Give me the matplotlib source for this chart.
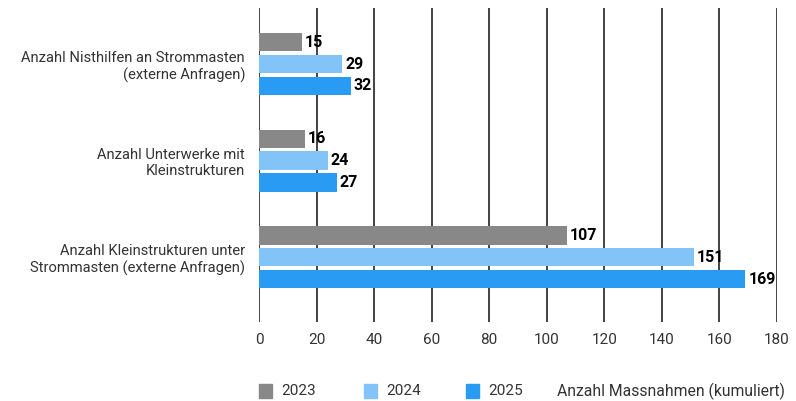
import matplotlib
matplotlib.use("Agg")
import matplotlib.pyplot as plt
import numpy as np

categories = ["Anzahl Nisthilfen an Strommasten\n(externe Anfragen)",
              "Anzahl Unterwerke mit\nKleinstrukturen",
              "Anzahl Kleinstrukturen unter\nStrommasten (externe Anfragen)"]
years = ["2023", "2024", "2025"]
values_2023 = [15, 16, 107]
values_2024 = [29, 24, 151]
values_2025 = [32, 27, 169]
xticks = [0, 20, 40, 60, 80, 100, 120, 140, 160, 180]
axis_title = "Anzahl Massnahmen (kumuliert)"

colors = ["#888888", "#82C4F8", "#2A9BF3"]
plt.rcParams['font.family'] = ['Roboto', 'DejaVu Sans']

fig = plt.figure(figsize=(7.96, 4.01), dpi=100)
ax = fig.add_axes([259/796, 1-322/401, (777-259)/796, (322-8)/401])

series = [values_2023, values_2024, values_2025]
y = np.arange(len(categories))
offsets = [-0.225, 0, 0.225]
h = 0.19
for s, off, c in zip(series, offsets, colors):
    ax.barh(y + off, s, height=h, color=c, zorder=3)
    for yy, v in zip(y + off, s):
        ax.text(v + 1.0, yy, str(v), va='center', ha='left', fontsize=11.5,
                fontweight='bold', color='black', zorder=4)

ax.set_xlim(0, 180)
ax.set_ylim(2.67, -0.58)
ax.set_xticks(xticks)
ax.set_xticklabels([str(t) for t in xticks], fontsize=11, color='#333333')
ax.set_yticks(y)
ax.set_yticklabels(categories, fontsize=10.6, color='#333333')
ax.tick_params(axis='both', length=0)
ax.tick_params(axis='x', pad=8)
ax.tick_params(axis='y', pad=10)
for sp in ax.spines.values():
    sp.set_visible(False)
ax.grid(axis='x', color='#111111', linewidth=1.1, zorder=0)
ax.grid(axis='y', visible=False)

# legend
lx = [259, 364, 466]
for x0, c, lab in zip(lx, colors, years):
    fig.patches.append(plt.Rectangle((x0/796, 1-398/401), 13/796, 14/401,
                                     transform=fig.transFigure, color=c))
    fig.text((x0+22)/796, 1-391/401, lab, fontsize=11, va='center', ha='left', color='#333333')
fig.text(557/796, 1-391/401, axis_title, fontsize=11.3, va='center', ha='left', color='#333333')

fig.savefig("out.png", dpi=100)
